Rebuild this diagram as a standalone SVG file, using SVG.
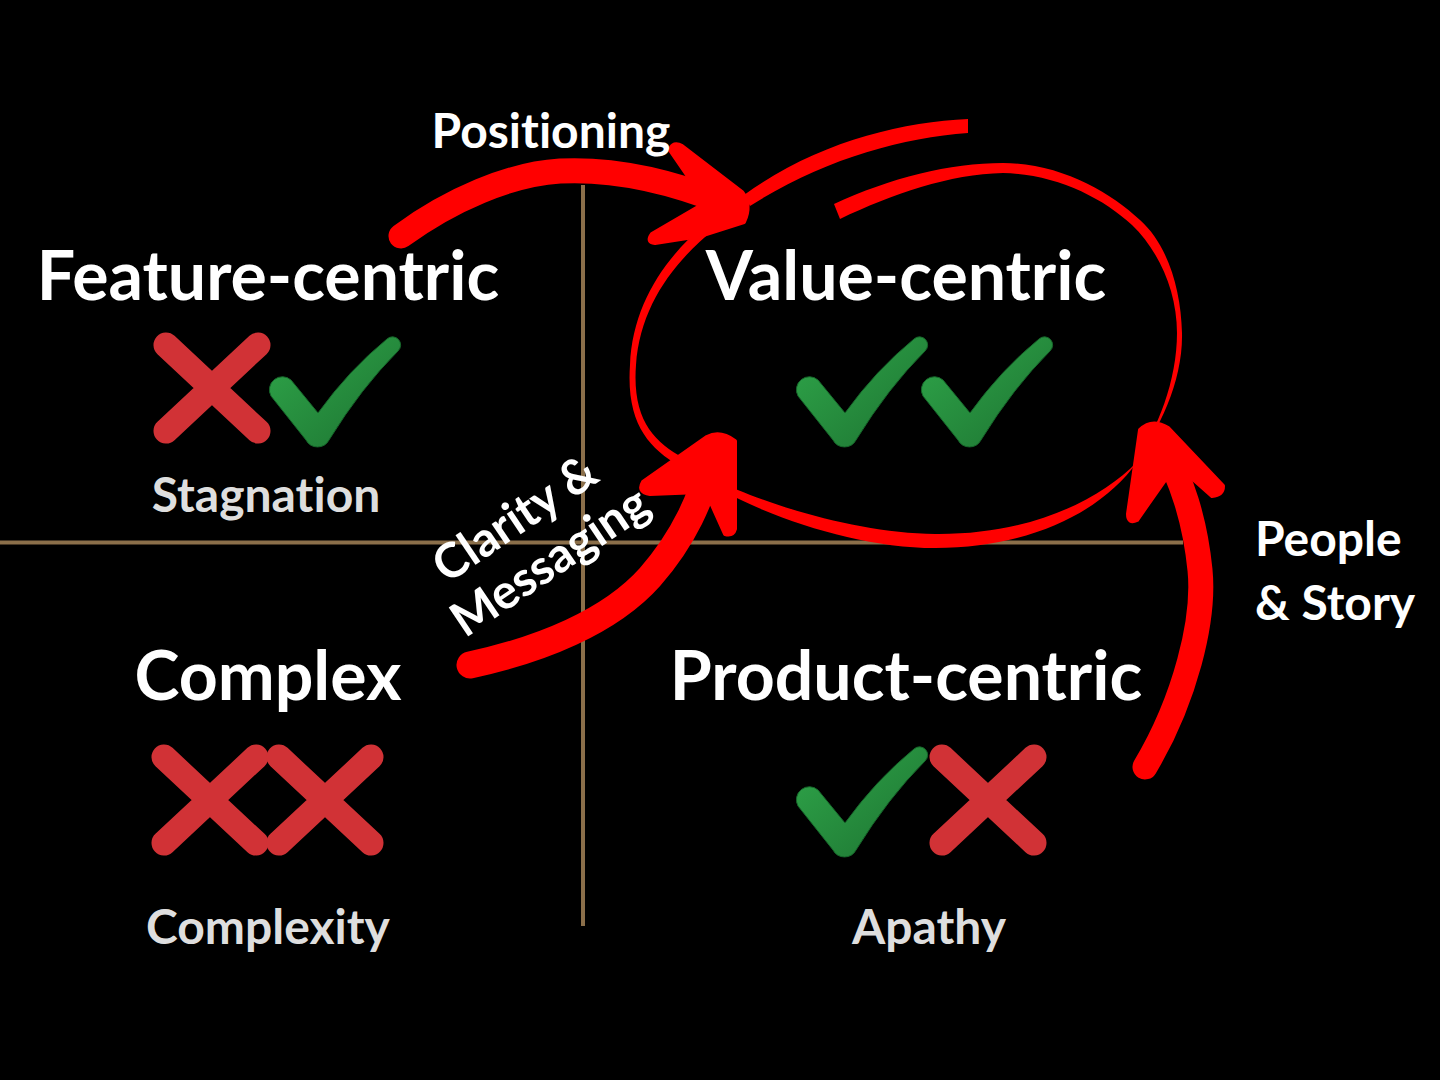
<svg xmlns="http://www.w3.org/2000/svg" width="1440" height="1080" viewBox="0 0 1440 1080">
<style>
text{font-variant-ligatures:none}
.title{font-family:Lato,"Open Sans","Liberation Sans",sans-serif;font-weight:700;font-size:68px;fill:#ffffff;text-anchor:middle}
.sub{font-family:Lato,"Open Sans","Liberation Sans",sans-serif;font-weight:700;font-size:48px;fill:#dedede;text-anchor:middle}
.lbl{font-family:Lato,"Open Sans","Liberation Sans",sans-serif;font-weight:700;font-size:48px;fill:#ffffff}
.axis{stroke:#8b6f4a;stroke-width:4;fill:none}
.red{fill:#ff0000;stroke:#ff0000;stroke-linejoin:round}
.shaft{fill:none;stroke:#ff0000;stroke-linecap:round}
.cross{fill:none;stroke:#d13236;stroke-width:25;stroke-linecap:round}
.check{fill:url(#gchk);stroke:#16662a;stroke-width:1}
</style>
<defs>
<linearGradient id="gchk" x1="0" y1="0" x2="1" y2="1">
<stop offset="0" stop-color="#2fa64a"/>
<stop offset="1" stop-color="#1d7331"/>
</linearGradient>
<path id="chk" d="M10,-8 L37,25 Q68,-18 106,-49 A8,8 0 0 1 117,-37 Q80,0 48,52 A13,13 0 0 1 25,52 L-10,8 A13,13 0 0 1 10,-8 Z"/>
<path id="xx" d="M-46,-43 L46,43 M46,-43 L-46,43"/>
</defs>
<rect width="1440" height="1080" fill="#000000"/>

<g id="axes">
<line class="axis" x1="583" y1="185" x2="583" y2="926"/>
<line class="axis" x1="0" y1="542.5" x2="1183" y2="542.5"/>
</g>

<g id="feature-centric">
<text class="title" x="268" y="300">Feature-centric</text>
<use href="#xx" class="cross" x="212" y="388"/>
<use href="#chk" class="check" x="281" y="388"/>
<text class="sub" x="266" y="512">Stagnation</text>
</g>

<g id="value-centric">
<text class="title" x="906" y="300">Value-centric</text>
<use href="#chk" class="check" x="808" y="388"/>
<use href="#chk" class="check" x="933" y="388"/>
</g>

<g id="complex">
<text class="title" x="268" y="700">Complex</text>
<use href="#xx" class="cross" x="210" y="800"/>
<use href="#xx" class="cross" x="325" y="800"/>
<text class="sub" x="268" y="944">Complexity</text>
</g>

<g id="product-centric">
<text class="title" x="906" y="700">Product-centric</text>
<use href="#chk" class="check" x="808" y="798"/>
<use href="#xx" class="cross" x="988" y="800"/>
<text class="sub" x="929" y="944">Apathy</text>
</g>

<g id="connectors">
<path class="red" stroke-width="0" d="M968,119 C900,122 815,143 744,195 L750,206 C822,160 900,138 968,133 Z"/>
<path class="red" stroke-width="0" d="M742,199 C686,231 633,288 630,365 C626,422 648,448 680,466 L684,458 C653,442 632,418 636,365 C641,292 692,240 748,206 Z"/>
<path class="red" stroke-width="0" d="M678,460 C720,500 840,548 935,548 C1035,548 1105,508 1137,462 C1100,500 1030,535 935,534 C840,533 720,490 678,458 Z"/>
<path class="red" stroke-width="0" d="M1133,464 C1160,430 1183,380 1182,333 C1181,290 1168,245 1140,220 C1110,192 1060,163 1003,163 C950,163 890,178 834,204 L840,219 C892,194 950,174 1003,173 C1055,174 1102,197 1132,225 C1158,250 1177,290 1177,333 C1177,380 1158,430 1133,464 Z"/>

<path class="shaft" stroke-width="25" d="M401,236 C450,200 510,174 560,171 C620,168 680,185 725,203"/>
<path class="red" stroke-width="4" d="M670,150 Q673,141 682,146 L742,192 Q752,205 744,222 L700,236 L655,243 Q646,242 652,234 L700,206 L692,182 Z"/>

<path class="shaft" stroke-width="27" d="M470,665 C540,650 610,622 650,577 C685,537 700,500 714,455"/>
<path class="red" stroke-width="4" d="M707,437 Q720,430 735,441 L735,529 Q733,536 725,534 L712,505 L700,492 L650,494 Q637,492 643,482 Z"/>

<path class="shaft" stroke-width="25" d="M1145,767 C1185,700 1205,620 1200,570 C1195,520 1182,480 1160,440"/>
<path class="red" stroke-width="4" d="M1140,430 Q1152,418 1168,428 L1223,486 Q1223,495 1212,496 L1185,472 L1165,480 L1137,520 Q1128,524 1128,514 Z"/>
</g>

<g id="labels">
<text class="lbl" x="551" y="148" text-anchor="middle" font-size="45">Positioning</text>
<text class="lbl" x="1255" y="556">People</text>
<text class="lbl" x="1255" y="620">&amp; Story</text>
<text class="lbl" text-anchor="middle" font-size="43" transform="translate(524,532) rotate(-34)">Clarity &amp;</text>
<text class="lbl" text-anchor="middle" font-size="43" transform="translate(559,575) rotate(-34)">Messaging</text>
</g>
</svg>
